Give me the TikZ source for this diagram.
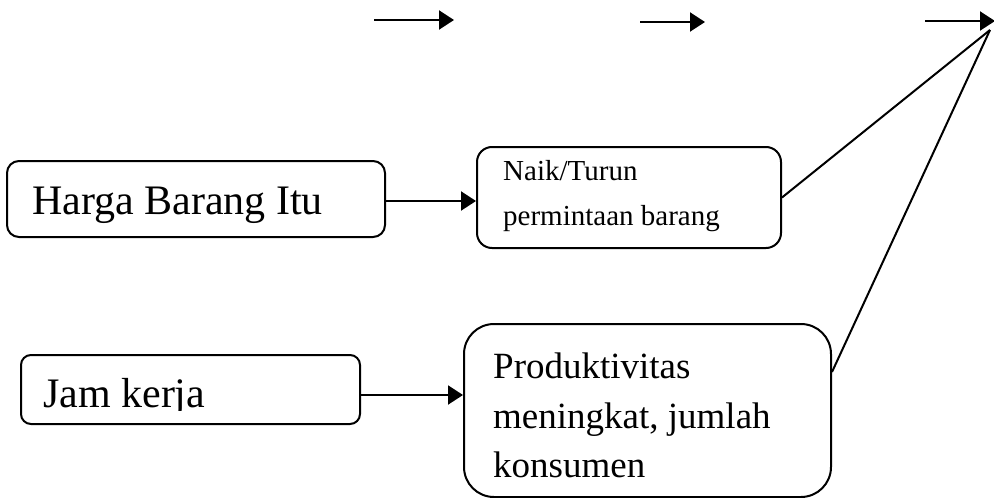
\documentclass[tikz,border=0pt]{standalone}
\usepackage{fontspec}
\setmainfont{Liberation Serif}
\usetikzlibrary{arrows.meta}
\begin{document}
\begin{tikzpicture}[x=1pt,y=-1pt,
  box/.style={draw=black,line width=2pt,rectangle,inner sep=0pt},
  lbl/.style={anchor=base west,inner sep=0pt,text=black},
  arr/.style={line width=2pt,-{Triangle[length=15pt,width=19pt]}},
  ln/.style={line width=2pt}]
\useasboundingbox (0,0) rectangle (994,498);
% boxes
\node[box,rounded corners=12pt,minimum width=378pt,minimum height=76pt] (b1) at (196,199) {};
\node[box,rounded corners=15pt,minimum width=304pt,minimum height=101pt] (b2) at (629,197.5) {};
\node[box,rounded corners=10pt,minimum width=339pt,minimum height=69pt] (b4) at (190.5,389.5) {};
\node[box,rounded corners=30pt,minimum width=367pt,minimum height=173pt] (b3) at (647.5,410.5) {};
% texts
\node[lbl,font=\fontsize{42}{50}\selectfont] (t1) at (32,214) {Harga Barang Itu};
\node[lbl,font=\fontsize{29}{35}\selectfont] (t2a) at (503,180) {Naik/Turun};
\node[lbl,font=\fontsize{29}{35}\selectfont] (t2b) at (503,225) {permintaan barang};
\node[lbl,font=\fontsize{37}{45}\selectfont] (t3a) at (493,378) {Produktivitas};
\node[lbl,font=\fontsize{37}{45}\selectfont] (t3b) at (493,428) {meningkat, jumlah};
\node[lbl,font=\fontsize{37}{45}\selectfont] (t3c) at (493,477) {konsumen};
\begin{scope}
\clip (25,360) rectangle (355,410);
\node[lbl,font=\fontsize{42}{50}\selectfont] (t4) at (43,407) {Jam kerja};
\end{scope}
% connectors between boxes
\draw[arr] ([yshift=-2pt]b1.east) -- ([yshift=-2pt]b1.east -| b2.west);
\draw[arr] ([yshift=-5.5pt]b4.east) -- ([yshift=-5.5pt]b4.east -| b3.west);
% top arrows
\coordinate (a1s) at (374,20);
\coordinate (a1e) at (454,20);
\coordinate (a2s) at (640,22);
\coordinate (a2e) at (705,22);
\coordinate (a3s) at (925,21);
\coordinate (a3e) at (995,21);
\draw[arr] (a1s) -- (a1e);
\draw[arr] (a2s) -- (a2e);
\draw[arr] (a3s) -- (a3e);
% diagonals to the top right
\coordinate (tip) at (990,30);
\draw[ln] (b2.east) -- (tip);
\draw[ln] ([yshift=38.5pt]b3.east) -- (tip);
\end{tikzpicture}
\end{document}
